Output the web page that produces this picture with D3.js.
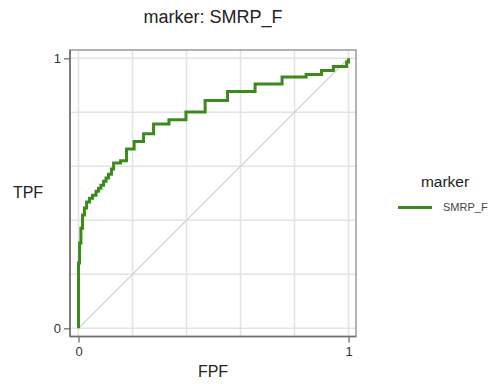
<!DOCTYPE html>
<html>
<head>
<meta charset="utf-8">
<script src="https://cdn.jsdelivr.net/npm/d3@7"></script>
<style>
  body { margin: 0; background: #fff; }
  svg { font-family: "Liberation Sans", Arial, sans-serif; }
</style>
</head>
<body>
<svg id="chart" width="493" height="384"></svg>
<script>
const title = 'marker: SMRP_F'
const seriesName = 'SMRP_F'
const legendTitle = 'marker'
const xLabel = 'FPF'
const yLabel = 'TPF'

// ROC step corners
const fpf = [0, 0, 0.004, 0.009, 0.015, 0.022, 0.030, 0.041, 0.052, 0.065, 0.074, 0.083, 0.093, 0.102,
  0.111, 0.122, 0.130, 0.156, 0.178, 0.206, 0.241, 0.278, 0.335, 0.398, 0.469, 0.552, 0.654,
  0.754, 0.843, 0.900, 0.944, 0.993, 1]
const tpf = [0, 0.242, 0.316, 0.371, 0.420, 0.446, 0.468, 0.482, 0.493, 0.508, 0.519, 0.530, 0.545, 0.557,
  0.571, 0.590, 0.612, 0.621, 0.664, 0.692, 0.721, 0.757, 0.772, 0.801, 0.844, 0.877, 0.905,
  0.931, 0.940, 0.955, 0.970, 0.986, 1]
const gridTicks = [0, 0.2, 0.4, 0.6, 0.8, 1]
const axisTicks = [0, 1]

const svg = d3.select('#chart')
const frame = { left: 70, top: 50, right: 356, bottom: 336.5 }

const x = d3.scaleLinear().domain([0, 1]).range([78.5, 348.5])
const y = d3.scaleLinear().domain([0, 1]).range([328.3, 58.3])

// grid
svg.append('g').selectAll('line.gx')
  .data(gridTicks).enter().append('line')
  .attr('x1', d => x(d)).attr('x2', d => x(d))
  .attr('y1', frame.top).attr('y2', frame.bottom)
  .attr('stroke', '#e3e3e3').attr('stroke-width', 1.5)
svg.append('g').selectAll('line.gy')
  .data(gridTicks).enter().append('line')
  .attr('y1', d => y(d)).attr('y2', d => y(d))
  .attr('x1', frame.left).attr('x2', frame.right)
  .attr('stroke', '#e3e3e3').attr('stroke-width', 1.5)

// frame
svg.append('rect')
  .attr('x', frame.left).attr('y', frame.top)
  .attr('width', frame.right - frame.left).attr('height', frame.bottom - frame.top)
  .attr('fill', 'none').attr('stroke', '#9a9a9a').attr('stroke-width', 1.5)

// reference diagonal
svg.append('line')
  .attr('x1', x(0)).attr('y1', y(0)).attr('x2', x(1)).attr('y2', y(1))
  .attr('stroke', '#cfcfcf').attr('stroke-width', 1.2)

// axes
const xAxis = d3.axisBottom(x).tickValues(axisTicks).tickFormat(d3.format('d')).tickSize(6).tickPadding(4)
const yAxis = d3.axisLeft(y).tickValues(axisTicks).tickFormat(d3.format('d')).tickSize(6).tickPadding(3)

const gx = svg.append('g').attr('transform', `translate(0,${frame.bottom})`).call(xAxis)
gx.select('.domain').attr('d', `M${frame.left},0H${frame.right}`)
const gy = svg.append('g').attr('transform', `translate(${frame.left},0)`).call(yAxis)
gy.select('.domain').attr('d', `M0,${frame.top}V${frame.bottom}`)

;[gx, gy].forEach(g => {
  g.select('.domain').attr('stroke', '#6e6e6e').attr('stroke-width', 1.6)
  g.selectAll('.tick line').attr('stroke', '#6e6e6e').attr('stroke-width', 1.3)
  g.selectAll('.tick text').attr('fill', '#333').style('font-size', '13px')
    .style('font-family', '"Liberation Sans", Arial, sans-serif')
})

// ROC curve
const pts = fpf.map((f, i) => [f, tpf[i]])
const line = d3.line().x(d => x(d[0])).y(d => y(d[1])).curve(d3.curveStepAfter)
svg.append('path')
  .datum(pts)
  .attr('d', line)
  .attr('fill', 'none')
  .attr('stroke', '#3b8a1c')
  .attr('stroke-width', 3)

// titles
svg.append('text').attr('x', 213).attr('y', 23).attr('text-anchor', 'middle')
  .attr('fill', '#222').style('font-size', '18px').text(title)
svg.append('text').attr('x', 28).attr('y', 198).attr('text-anchor', 'middle')
  .attr('fill', '#222').style('font-size', '16px').text(yLabel)
svg.append('text').attr('x', 213).attr('y', 377).attr('text-anchor', 'middle')
  .attr('fill', '#222').style('font-size', '16px').text(xLabel)

// legend
svg.append('text').attr('x', 445).attr('y', 187).attr('text-anchor', 'middle')
  .attr('fill', '#222').style('font-size', '15.5px').text(legendTitle)
svg.append('line').attr('x1', 398).attr('x2', 432).attr('y1', 207.5).attr('y2', 207.5)
  .attr('stroke', '#3b8a1c').attr('stroke-width', 3)
svg.append('text').attr('x', 443).attr('y', 211).attr('fill', '#444')
  .style('font-size', '11px').text(seriesName)
</script>
</body>
</html>
